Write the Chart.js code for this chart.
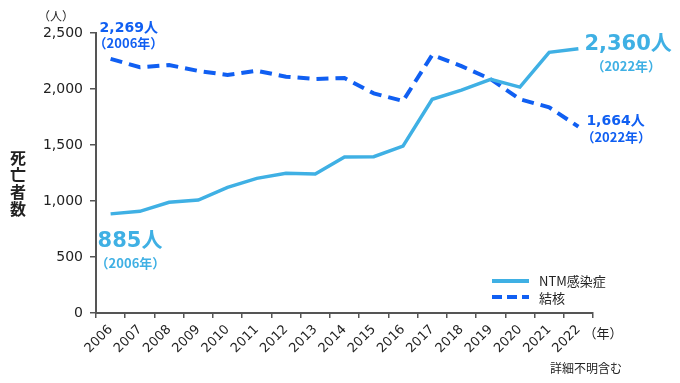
<!DOCTYPE html>
<html>
<head>
<meta charset="utf-8">
<script src="https://cdn.jsdelivr.net/npm/chart.js@4.4.0/dist/chart.umd.min.js"></script>
<style>
html,body{margin:0;padding:0;background:#fff;}
#wrap{width:680px;height:383px;position:relative;}
</style>
</head>
<body>
<div id="wrap"><canvas id="c" width="680" height="383"></canvas></div>
<script>
const years = ['2006','2007','2008','2009','2010','2011','2012','2013','2014','2015','2016','2017','2018','2019','2020','2021','2022'];
const ntmDeaths = [885, 908, 988, 1008, 1122, 1202, 1247, 1241, 1392, 1396, 1490, 1908, 1990, 2087, 2017, 2327, 2360];
const tbDeaths = [2269, 2194, 2214, 2161, 2125, 2163, 2110, 2089, 2098, 1961, 1893, 2304, 2204, 2088, 1908, 1837, 1664];
const seriesNames = ['NTM感染症', '結核'];
const yTicks = [0, 500, 1000, 1500, 2000, 2500];

const NTM_COLOR = '#3fb0e4';
const TB_COLOR = '#105ff2';
const TEXT = '#222222';
const AXIS = '#555555';
const FONT = '"DejaVu Sans", "Noto Sans CJK JP", sans-serif';
const CJK = '"Noto Sans CJK JP", "DejaVu Sans", sans-serif';

const fmt = v => v.toLocaleString('en-US');

const overlay = {
  id: 'overlay',
  afterDraw(chart) {
    const ctx = chart.ctx;
    const ntm = chart.getDatasetMeta(0).data;
    const tb = chart.getDatasetMeta(1).data;
    const first = 0, last = years.length - 1;
    ctx.save();
    ctx.textBaseline = 'middle';
    ctx.textAlign = 'left';

    // TB 2006
    let p = tb[first];
    ctx.fillStyle = TB_COLOR;
    ctx.font = 'bold 14px ' + FONT;
    ctx.fillText(fmt(tbDeaths[first]) + '人', p.x - 11, p.y - 31);
    ctx.font = 'bold 13px ' + CJK;
    ctx.fillText('（' + years[first] + '年）', p.x - 17, p.y - 16);

    // TB 2022
    p = tb[last];
    ctx.font = 'bold 14px ' + FONT;
    ctx.fillText(fmt(tbDeaths[last]) + '人', p.x + 8, p.y - 5);
    ctx.font = 'bold 13px ' + CJK;
    ctx.fillText('（' + years[last] + '年）', p.x + 3, p.y + 10);

    // NTM 2022
    p = ntm[last];
    ctx.fillStyle = NTM_COLOR;
    ctx.font = 'bold 21px ' + FONT;
    ctx.fillText(fmt(ntmDeaths[last]) + '人', p.x + 6, p.y - 4);
    ctx.font = 'bold 13px ' + CJK;
    ctx.fillText('（' + years[last] + '年）', p.x + 13, p.y + 17);

    // NTM 2006
    p = ntm[first];
    ctx.font = 'bold 21px ' + FONT;
    ctx.fillText(fmt(ntmDeaths[first]) + '人', p.x - 13, p.y + 28);
    ctx.font = 'bold 13px ' + CJK;
    ctx.fillText('（' + years[first] + '年）', p.x - 15, p.y + 49);

    // y title vertical
    ctx.fillStyle = TEXT;
    ctx.textAlign = 'center';
    ctx.font = 'bold 16px ' + CJK;
    const title = '死亡者数';
    for (let i = 0; i < title.length; i++) {
      ctx.fillText(title[i], 18, 158 + i * 17);
    }
    // unit labels
    ctx.font = '12px ' + CJK;
    ctx.fillText('（人）', 56, 16);
    ctx.font = '13px ' + CJK;
    ctx.fillText('（年）', 603, 333);
    ctx.font = '12px ' + CJK;
    ctx.fillText('詳細不明含む', 586, 368);

    // legend
    ctx.textAlign = 'left';
    ctx.lineWidth = 4;
    ctx.strokeStyle = NTM_COLOR;
    ctx.beginPath(); ctx.moveTo(492, 281); ctx.lineTo(529, 281); ctx.stroke();
    ctx.strokeStyle = TB_COLOR;
    ctx.setLineDash([10, 5]);
    ctx.beginPath(); ctx.moveTo(492, 297); ctx.lineTo(529, 297); ctx.stroke();
    ctx.setLineDash([]);
    ctx.fillStyle = TEXT;
    ctx.font = '13px ' + CJK;
    ctx.fillText(seriesNames[0], 539, 281);
    ctx.fillText(seriesNames[1], 539, 298);
    ctx.restore();
  }
};

new Chart(document.getElementById('c'), {
  type: 'line',
  data: {
    labels: years,
    datasets: [
      { label: seriesNames[0], data: ntmDeaths, borderColor: NTM_COLOR, borderWidth: 3.5, pointRadius: 0, tension: 0, fill: false },
      { label: seriesNames[1], data: tbDeaths, borderColor: TB_COLOR, borderWidth: 4, borderDash: [12, 7], pointRadius: 0, tension: 0, fill: false }
    ]
  },
  options: {
    responsive: false,
    animation: false,
    devicePixelRatio: 1,
    layout: { padding: { top: 33, right: 87, left: 0, bottom: 0 } },
    plugins: { legend: { display: false }, tooltip: { enabled: false } },
    scales: {
      x: {
        offset: true,
        grid: { offset: true, drawOnChartArea: false, tickLength: 5, color: AXIS, lineWidth: 1.5 },
        border: { color: AXIS, width: 2 },
        ticks: { color: TEXT, font: { family: FONT, size: 13 }, minRotation: 45, maxRotation: 45, padding: 4, autoSkip: false },
        afterFit: s => { s.height = 70; }
      },
      y: {
        min: 0, max: 2500,
        afterBuildTicks: s => { s.ticks = yTicks.map(v => ({ value: v })); },
        grid: { drawOnChartArea: false, tickLength: 6, color: AXIS, lineWidth: 1.5 },
        border: { color: AXIS, width: 2 },
        ticks: { color: TEXT, font: { family: FONT, size: 14 }, padding: 7, callback: v => fmt(v) },
        afterFit: s => { s.width = 96; }
      }
    }
  },
  plugins: [overlay]
});
</script>
</body>
</html>
